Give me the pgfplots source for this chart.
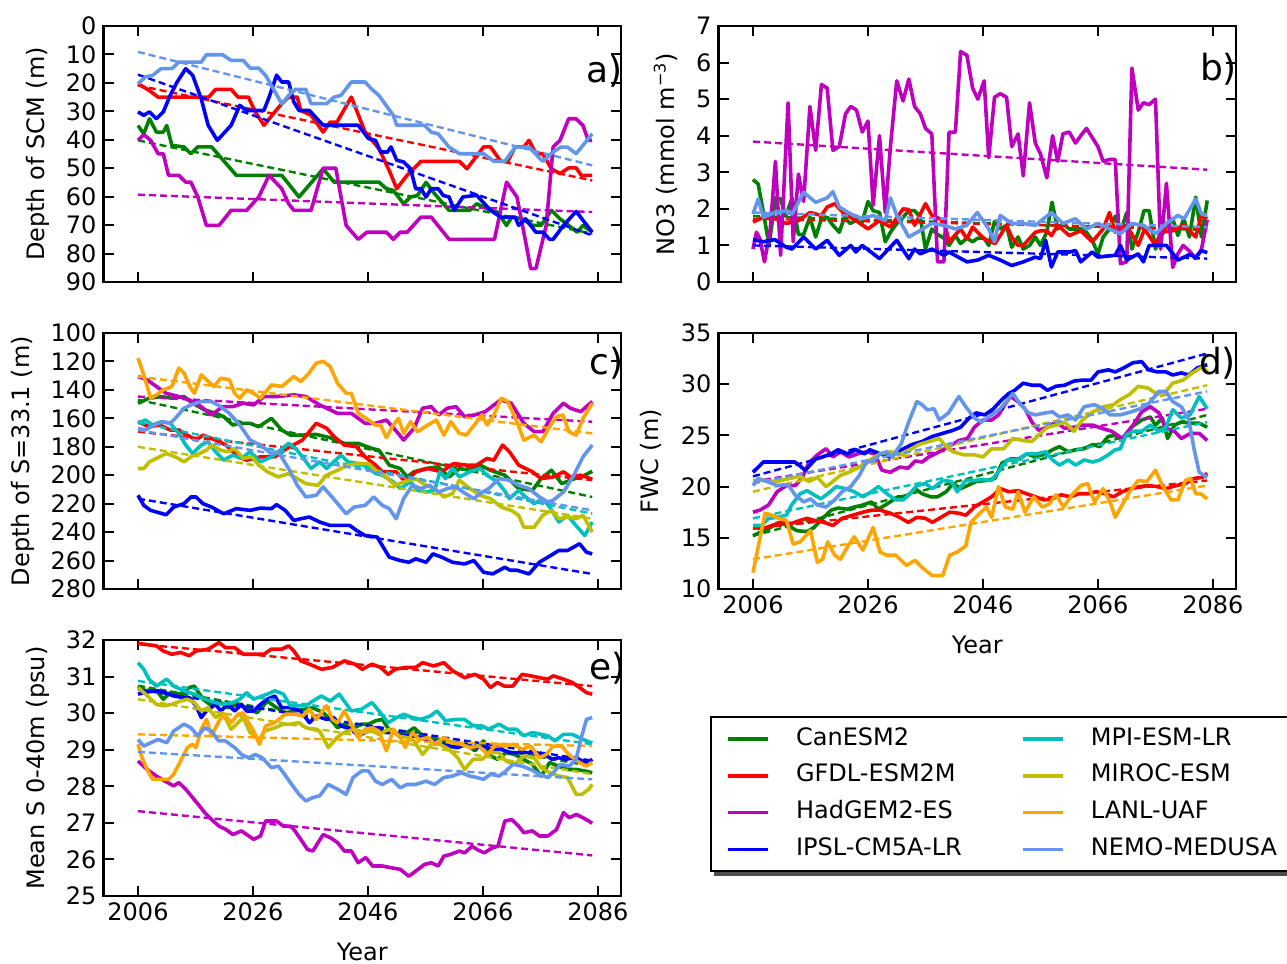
\documentclass[border=0pt]{standalone}
\usepackage{pgfplots}
\pgfplotsset{compat=1.18}
\usepackage{fontspec}
\setmainfont{DejaVu Sans}
\pgfdeclarelayer{background}
\pgfsetlayers{background,main}
\definecolor{cCan}{rgb}{0,0.5,0}
\definecolor{cGFDL}{rgb}{1,0,0}
\definecolor{cHad}{rgb}{0.75,0,0.75}
\definecolor{cIPSL}{rgb}{0,0,1}
\definecolor{cMPI}{rgb}{0,0.75,0.75}
\definecolor{cMIROC}{rgb}{0.75,0.75,0}
\definecolor{cLANL}{rgb}{1,0.647,0}
\definecolor{cNEMO}{rgb}{0.392,0.584,0.929}
\newcommand\fsz{\fontsize{12}{14.4}\selectfont}
\newcommand\fpl{\fontsize{18}{20}\selectfont}
\pgfplotsset{
  ser/.style={line width=1.8pt, line join=round, mark=none},
  tr/.style={line width=1.2pt, dash pattern=on 3.5pt off 2pt, mark=none},
  panel/.style={scale only axis, width=258.75pt, height=128pt,
    xmin=2000, xmax=2090, xtick={2006,2026,...,2086},
    tick align=inside, major tick length=5pt,
    tick style={black, line width=1pt},
    axis line style={line width=1.2pt},
    every tick label/.append style={font=\fsz},
    label style={font=\fsz},
    /pgf/number format/assume math mode=true,
    /pgf/number format/1000 sep={},
    clip mode=individual,
    xlabel style={at={(axis description cs:0.5,-0.219)}, anchor=center},
  },
}
\begin{document}
\begin{tikzpicture}
\path[use as bounding box] (0,0) rectangle (643.5pt,482pt);
% ---------------- a)
\begin{axis}[panel, at={(51.75pt,341pt)}, anchor=south west,
  ymin=0, ymax=90, ytick={0,10,...,90}, y dir=reverse, xticklabels={},
  ylabel={Depth of SCM (m)},
  ylabel style={at={(axis description cs:-0.126,0.5)}, anchor=center}]
\addplot[cCan,ser] coordinates {(2006,35)(2007,37.9)(2008,32.6)(2009.2,37.3)(2010.4,37.3)(2011,35)(2011.9,42)(2014,42.5)(2015.2,44.9)(2016.4,42.5)(2018.8,42.5)(2023.1,52.5)(2031,52.5)(2034,60.1)(2038.2,50.2)(2040.1,54.9)(2047.9,54.9)(2049.2,57.2)(2050.4,57.8)(2052.2,62.5)(2053.4,60.1)(2054.6,59.6)(2056.1,55)(2057.6,59)(2060.1,64.8)(2063.7,64.8)(2064.9,62.5)(2067.3,64.8)(2068.5,65.4)(2070.1,70.1)(2071,67.2)(2072.8,67.8)(2074.6,70.1)(2076.1,70.1)(2077.9,64.8)(2079.4,67.8)(2080.9,70.1)(2082.4,72.5)(2083.4,70.1)(2085,72.5)};
\addplot[cCan,tr] coordinates {(2006,40.2)(2085,73)};
\addplot[cGFDL,ser] coordinates {(2006,20.3)(2007.9,22.6)(2009.5,25)(2018.3,25)(2019.5,22.3)(2022.2,22.3)(2023.4,25)(2025.2,25)(2026.4,30.2)(2027.9,34.9)(2029.8,30.2)(2031,27.3)(2032.2,25)(2033.7,25)(2034.3,29.7)(2036.1,31.4)(2038.2,37.3)(2039.4,33.8)(2040.6,33.8)(2043.1,25)(2045.5,37.3)(2047.9,43.1)(2049.8,51.3)(2051,57.2)(2052.8,52.5)(2055.2,47.6)(2061.9,47.6)(2063.2,50.2)(2065,45.5)(2066.1,42.5)(2067.3,42.5)(2069.1,47.6)(2070.3,47.6)(2071.6,42.5)(2073.1,42.5)(2074,40.2)(2075.2,44.9)(2076.4,44.9)(2077.9,50.2)(2079.4,51.9)(2080.9,49.9)(2082.2,49.9)(2083.1,52.5)(2085,52.5)};
\addplot[cGFDL,tr] coordinates {(2006,20.9)(2085,54.3)};
\addplot[cHad,ser] coordinates {(2006,40.2)(2007,38.2)(2008.2,40.2)(2009.5,44.9)(2010.4,44.9)(2011.3,52.5)(2013.1,52.5)(2014.3,54.9)(2015.2,54.9)(2016.4,60.1)(2017.9,70.1)(2020.1,70.1)(2022.2,64.8)(2024.9,64.8)(2027,60.1)(2028.8,52.5)(2031,57.2)(2032.2,62.5)(2033.1,64.8)(2036.1,64.8)(2038.2,50)(2040.4,50)(2042.2,70.1)(2044.3,75)(2045.8,72.5)(2049.2,72.5)(2050.4,75)(2051.6,72.5)(2052.8,72.5)(2055.2,67.2)(2057,67.2)(2060.1,75)(2068,75)(2070.1,54.9)(2071.9,60.1)(2073.1,72.5)(2074.3,85.3)(2075.2,85.3)(2077,70.1)(2078.2,42.5)(2079.4,40.2)(2080.9,32.6)(2082.2,32.6)(2083.4,35)(2084.3,40.2)(2085,40.2)};
\addplot[cHad,tr] coordinates {(2006,59.3)(2085,65.4)};
\addplot[cIPSL,ser] coordinates {(2006,30.2)(2007,31.4)(2008,30.2)(2009.2,32.6)(2010.4,30.2)(2011.6,24.4)(2012.8,19.7)(2014.3,15)(2015.5,17.3)(2017,25.6)(2018.2,34.9)(2019.8,40.2)(2022.2,34.9)(2023.7,27.9)(2024.9,29.7)(2027.9,29.7)(2028.8,25)(2030.1,17.3)(2031,19.7)(2032.2,19.7)(2033.1,26.7)(2034,29.7)(2035.8,29.7)(2038.2,34.9)(2044.3,34.9)(2046.1,39.6)(2047.3,40.2)(2048.2,44.3)(2049.4,44.3)(2050,42.5)(2051,47.2)(2052.2,47.8)(2053.4,50.2)(2054.3,57.2)(2055.2,57.2)(2056.1,60.1)(2057,57.2)(2058.2,57.2)(2059.1,59.6)(2060.1,60.1)(2061,64.8)(2062.5,60.1)(2064.9,59.5)(2067.3,64.8)(2069.1,67.2)(2071.6,67.2)(2072.2,70.1)(2073.4,67.8)(2075.2,72.5)(2076.4,72.5)(2077.6,75)(2078.2,75)(2080,70.1)(2082.2,65.2)(2085,72.5)};
\addplot[cIPSL,tr] coordinates {(2006,17.1)(2085,73.6)};
\addplot[cNEMO,ser] coordinates {(2006,20.3)(2007.3,17.9)(2008.5,17.4)(2010,15)(2011.9,15)(2013.1,12.7)(2017,12.7)(2017.9,10.1)(2020.7,10.1)(2022.2,12.1)(2024.3,12.1)(2025.5,14.8)(2027,14.8)(2028.2,17.4)(2029.2,20.9)(2031,27.3)(2032.2,24.4)(2033.4,22.3)(2035.2,22.3)(2036.1,27.3)(2038.8,27.3)(2040.1,25)(2041.3,24.4)(2043.1,19.7)(2045.5,19.7)(2046.7,22.3)(2047.9,24.4)(2050.4,31.4)(2051,34.9)(2055.8,34.9)(2057,37.3)(2058.2,37.9)(2060.1,42.6)(2061.9,44.9)(2066.1,44.9)(2067.9,47.6)(2069.8,47.6)(2071.6,42.6)(2074,42.6)(2076.4,47.6)(2078.2,44.3)(2079.5,42.6)(2080.7,42.6)(2082.2,44.9)(2085,37.9)};
\addplot[cNEMO,tr] coordinates {(2006,9.1)(2085,49)};
\node[anchor=base west, font=\fpl] at (axis description cs:0.92,0.78) {a)};
\end{axis}
% ---------------- b)
\begin{axis}[panel, at={(359.25pt,341pt)}, anchor=south west,
  ymin=0, ymax=7, ytick={0,1,...,7}, xticklabels={},
  ylabel={NO3 (mmol m\textsuperscript{−3})},
  ylabel style={at={(axis description cs:-0.102,0.5)}, anchor=center}]
\addplot[cCan,ser] coordinates {(2006,2.8)(2006.9,2.68)(2007.8,1.9)(2008.8,1.0)(2009.9,2.3)(2010.8,2.27)(2011.7,1.8)(2012.8,2.3)(2013.9,1.3)(2014.8,1.3)(2015.9,1.77)(2016.9,1.23)(2017.9,1.73)(2018.9,1.77)(2019.9,1.55)(2021,1.36)(2021.9,1.77)(2022.9,1.6)(2023.9,1.68)(2024.9,1.6)(2026,2.2)(2026.9,1.95)(2028,1.9)(2029,1.1)(2029.9,1.36)(2031,1.6)(2032.1,1.77)(2033.1,1.95)(2034.1,1.95)(2035.1,1.77)(2036,0.9)(2037.1,1.45)(2038.1,1.3)(2039.2,1.2)(2040.1,1.0)(2041.2,1.27)(2042.1,1.05)(2043.2,1.2)(2044.2,1.1)(2045.1,1.2)(2046.2,1.2)(2047,1.0)(2048,1.65)(2049,1.45)(2050.1,1.55)(2051,0.95)(2052.1,1.23)(2053,0.9)(2054.1,1.0)(2055.1,1.23)(2056,1.0)(2057.1,1.36)(2058,2.18)(2059,1.45)(2059.9,1.6)(2061,1.45)(2062.1,1.45)(2063,1.45)(2064,1.36)(2065,1.14)(2066,0.77)(2066.9,1.23)(2068,1.45)(2069,1.8)(2069.9,1.36)(2071,1.9)(2071.9,0.9)(2073,1.36)(2074,1.95)(2074.9,1.95)(2076,0.9)(2076.9,1.23)(2077.9,1.5)(2079,1.73)(2079.9,1.27)(2080.9,1.73)(2081.9,1.23)(2083,2.32)(2084,1.23)(2085,2.23)};
\addplot[cCan,tr] coordinates {(2006,1.8)(2085,1.42)};
\addplot[cGFDL,ser] coordinates {(2006,1.64)(2007.8,1.77)(2009.8,1.73)(2011.8,1.6)(2013.9,1.68)(2015.9,1.9)(2017.9,1.82)(2018.9,2.05)(2020.2,2.14)(2021.9,1.86)(2023.9,1.68)(2026,1.45)(2028,1.68)(2029.9,1.5)(2032.1,2.0)(2033.1,1.98)(2034.1,1.55)(2036,2.14)(2037.1,1.82)(2039.2,1.68)(2040.1,1.1)(2042.1,1.45)(2043.2,1.18)(2044.2,1.5)(2046.2,1.18)(2048.1,1.05)(2050.1,1.55)(2051,1.23)(2052.1,1.0)(2053,1.0)(2055.1,1.36)(2056,1.4)(2057.1,1.4)(2057.9,1.27)(2059,1.55)(2061,1.27)(2063,1.4)(2065,1.1)(2066.9,1.45)(2068,1.9)(2069,1.36)(2071,1.55)(2073,1.0)(2074.1,1.45)(2076,1.0)(2076.9,1.36)(2079,1.4)(2081,1.55)(2083,1.23)(2084,1.82)(2085,1.73)};
\addplot[cGFDL,tr] coordinates {(2006,1.73)(2085,1.45)};
\addplot[cHad,ser] coordinates {(2006,0.9)(2006.6,1.36)(2007.2,1.18)(2008,0.55)(2009,1.45)(2009.9,3.3)(2010.8,0.73)(2012.1,4.9)(2013,1.1)(2013.9,2.95)(2014.8,2.2)(2015.9,4.8)(2016.9,3.6)(2017.9,5.4)(2018.9,5.3)(2019.9,3.6)(2021,3.7)(2022.1,4.6)(2023,4.8)(2024,4.7)(2025,4.1)(2026,4.4)(2026.9,2.1)(2028,4.0)(2029,1.9)(2029.9,3.7)(2031,5.5)(2032.1,4.95)(2033.1,5.55)(2034.1,4.8)(2035.1,4.6)(2036,4.2)(2037.1,4.05)(2038.1,0.55)(2039.2,0.55)(2040.1,4.1)(2041.2,4.1)(2042.1,6.3)(2043.2,6.2)(2044.2,5.3)(2045.1,5.0)(2046.2,5.5)(2047,3.4)(2048,5.05)(2049,5.15)(2050.1,5.05)(2051,3.7)(2052.1,4.05)(2053,2.9)(2054.1,4.9)(2055.1,3.8)(2056,3.5)(2057.1,2.85)(2058.1,4.0)(2059,3.3)(2059.9,4.05)(2061,4.1)(2062.1,3.8)(2063,4.0)(2064,4.2)(2065,3.95)(2066,3.7)(2066.9,3.3)(2068,3.35)(2069,3.35)(2069.9,0.5)(2071,0.55)(2071.9,5.85)(2073,4.7)(2073.9,4.9)(2074.9,4.85)(2076,5.0)(2076.9,0.9)(2077.9,2.7)(2079,0.4)(2079.9,0.77)(2080.8,1.0)(2081.9,0.85)(2083,0.64)(2084,0.9)(2085,1.7)};
\addplot[cHad,tr] coordinates {(2006,3.84)(2085,3.07)};
\addplot[cIPSL,ser] coordinates {(2006,1.16)(2007.8,1.1)(2009.8,1.16)(2011.8,0.95)(2012.8,0.9)(2014.8,1.23)(2016.9,0.9)(2018.9,1.14)(2021,0.73)(2023,1.0)(2023.9,0.82)(2025,1.0)(2028,0.64)(2031,1.14)(2033.1,0.64)(2034.1,0.9)(2035.1,0.77)(2037.1,0.9)(2039.2,0.73)(2040.1,0.82)(2043.2,0.55)(2045.1,0.6)(2047,0.73)(2049,0.6)(2051,0.45)(2053,0.55)(2055.1,0.68)(2056,0.64)(2056.9,1.14)(2057.9,0.41)(2059,0.82)(2061,0.82)(2062.1,0.86)(2063,0.55)(2065,0.82)(2066,0.68)(2069,0.73)(2069.9,1.0)(2071,0.6)(2073,0.77)(2073.9,0.55)(2074.9,1.0)(2077.9,1.0)(2079.9,0.6)(2081.9,0.75)(2083,0.68)(2084,0.86)(2085,0.8)};
\addplot[cIPSL,tr] coordinates {(2006,1.0)(2085,0.64)};
\addplot[cNEMO,ser] coordinates {(2006,1.86)(2006.9,2.27)(2007.8,1.77)(2009.8,1.9)(2011.8,1.95)(2012.8,1.86)(2014.8,2.45)(2016.9,2.18)(2018.9,2.3)(2019.9,2.47)(2021,2.05)(2023,1.86)(2025,1.73)(2026.9,1.82)(2029,1.68)(2029.9,2.3)(2031,1.82)(2033.1,1.23)(2035.1,1.41)(2037.1,1.6)(2039.2,1.55)(2041.2,1.45)(2043.2,1.55)(2045,1.9)(2047,1.45)(2048,1.1)(2049,1.82)(2051,1.6)(2053,1.6)(2055.1,1.55)(2057.9,1.9)(2059.9,1.6)(2062.1,1.73)(2064,1.45)(2066,1.6)(2068,1.45)(2069.9,1.32)(2071.9,1.6)(2073.9,1.55)(2076,1.32)(2077.9,1.6)(2079.9,1.82)(2081,1.73)(2083,2.27)(2084,1.86)(2085,1.82)};
\addplot[cNEMO,tr] coordinates {(2006,1.9)(2085,1.5)};
\node[anchor=base west, font=\fpl] at (axis description cs:0.917,0.786) {b)};
\end{axis}
% ---------------- c)
\begin{axis}[panel, at={(51.75pt,187.5pt)}, anchor=south west,
  ymin=100, ymax=280, ytick={100,120,...,280}, y dir=reverse, xticklabels={},
  ylabel={Depth of S=33.1 (m)},
  ylabel style={at={(axis description cs:-0.156,0.5)}, anchor=center}]
\addplot[cCan,ser] coordinates {(2006,149.4)(2007.9,145.9)(2010.1,144.7)(2011.9,145.9)(2014,144.7)(2015.5,149.4)(2017.6,154.1)(2019.5,156.5)(2020.9,158.8)(2022.5,164.7)(2023.7,163.5)(2025.5,163.5)(2027,165.9)(2029.2,160)(2031,168.2)(2032.5,171.8)(2034.6,171.8)(2037,171.3)(2039.4,173.6)(2041.9,177.6)(2044.3,177.6)(2046.7,181.2)(2047.9,182.4)(2049.7,192.9)(2051.6,195.3)(2052.8,201.2)(2054,197.6)(2056.1,195.3)(2058.2,194.1)(2060.1,201.2)(2061.9,195.3)(2063.7,196.5)(2065.5,192.9)(2067.3,196.5)(2069.8,200)(2072.2,209.4)(2074.6,210.6)(2076.1,202.4)(2077.9,196.5)(2079.7,205.9)(2081.2,203.5)(2083.7,200)(2085,197.2)};
\addplot[cCan,tr] coordinates {(2006,147)(2085,215.3)};
\addplot[cGFDL,ser] coordinates {(2006,162.4)(2007.9,165.9)(2009.8,164.7)(2011.6,168.2)(2013.1,168.2)(2014.6,171.8)(2016.1,175.3)(2017.3,171.8)(2019.5,175.3)(2021.3,178.8)(2023.4,187.1)(2024.9,189.4)(2027.3,187.1)(2029.8,187.1)(2031.9,181.2)(2034.6,175.3)(2035.8,169.4)(2037,163.5)(2038.8,167)(2040.1,172.9)(2041.9,178.8)(2044,180)(2045.5,187.1)(2047.3,192.9)(2048.5,197.6)(2050.9,197.6)(2052.5,204.7)(2054.3,197.6)(2056.4,195.3)(2058.8,197.6)(2060.9,191.8)(2063.1,192.9)(2064.9,192.9)(2066.7,188.2)(2067.9,189.4)(2069.4,178.8)(2070.6,183.5)(2072.2,192.9)(2074.6,197.6)(2076.1,202.4)(2078.2,201.2)(2080,197.6)(2081.2,201.2)(2083,200)(2085,202.8)};
\addplot[cGFDL,tr] coordinates {(2006,169.4)(2085,203.5)};
\addplot[cHad,ser] coordinates {(2006,130.6)(2007.6,132.9)(2009.2,137.6)(2010.9,142.4)(2013.1,144.7)(2014.9,147)(2017,151.8)(2018.8,157.6)(2020.7,151.8)(2022.5,151.8)(2024.3,149.4)(2026.1,150.6)(2027.9,144.7)(2030.1,144.7)(2033.1,143.5)(2035.2,144.7)(2037.6,150.6)(2040.7,156.5)(2043.1,156.5)(2045.5,163.5)(2047.3,163.5)(2049.2,161.2)(2051,169.4)(2052.2,175.3)(2054,167)(2055.5,152.9)(2057,151.8)(2058.3,157.6)(2059.8,152.9)(2061.3,151.8)(2062.8,158.8)(2064.6,157.6)(2066.4,155.3)(2067.9,150.6)(2069.1,147)(2070.9,149.4)(2073.1,163.5)(2074.9,169.4)(2076.4,169.4)(2078.2,156.5)(2080,149.4)(2081.2,152.9)(2083,155.3)(2085,148.2)};
\addplot[cHad,tr] coordinates {(2006,144.7)(2085,162.4)};
\addplot[cIPSL,ser] coordinates {(2006,214.1)(2007,221.2)(2008.2,224.7)(2010.9,227.8)(2012.2,222.4)(2014,220)(2015.2,215.3)(2016.1,215.3)(2017.3,220)(2018.8,222.4)(2020.9,227.1)(2023.1,223.5)(2025.5,224.7)(2027.3,223.1)(2029.2,223.5)(2030.1,220.7)(2031.6,224.7)(2033.1,231.8)(2034.3,230.6)(2035.8,229.4)(2037.6,232.9)(2039.4,235.3)(2041.3,235.3)(2042.8,235.3)(2044,238.8)(2045.5,242.4)(2047.6,243.5)(2049.7,257.6)(2051.6,260)(2053.1,261.2)(2054.3,258.8)(2056.1,261.2)(2057.3,255.3)(2058.8,257.6)(2060.7,261.2)(2062.8,262.4)(2064.4,260)(2066.1,268.2)(2067.7,269.4)(2069.8,264.7)(2070.7,266.8)(2071.9,266.8)(2074,269.4)(2075.8,261.2)(2077.3,257.6)(2079.2,252.9)(2080.7,252.9)(2082.8,248.2)(2084,254.1)(2085,255.3)};
\addplot[cIPSL,tr] coordinates {(2006,216.5)(2085,269.4)};
\addplot[cMPI,ser] coordinates {(2006,163.5)(2007.3,161.2)(2008.5,164.7)(2010.1,162.4)(2011.6,163.5)(2013.1,170.6)(2014.3,178.8)(2015.5,184.7)(2017,178.8)(2018.2,176.5)(2019.5,183.5)(2020.9,189.4)(2022.5,185.9)(2024,188.2)(2025.5,183.5)(2027.3,190.6)(2029.2,187.1)(2030.4,183.5)(2032.2,177.6)(2033.4,181.2)(2034.6,187.1)(2036.1,195.3)(2037.6,190.6)(2038.8,195.3)(2041.3,185.9)(2042.5,190.6)(2044.3,191.8)(2046.1,194.1)(2047.3,198.8)(2048.5,200)(2050.4,204.7)(2051.6,209.4)(2053.4,204.7)(2054.6,210.6)(2056.1,211.8)(2057.6,210.6)(2058.5,197.6)(2059.5,202.4)(2060.7,195.3)(2061.9,201.2)(2063.7,197.6)(2065.5,195.3)(2066.7,200)(2068.5,204.7)(2069.7,210.6)(2070.6,216.5)(2072.2,210.6)(2073.4,215.3)(2074.9,220)(2076.4,216.5)(2077.6,222.4)(2079.2,232.9)(2080.7,228.2)(2081.9,234.1)(2083.7,242.4)(2085,232.9)};
\addplot[cMPI,tr] coordinates {(2006,163)(2085,227)};
\addplot[cMIROC,ser] coordinates {(2006,195.3)(2007,195.3)(2008,190.6)(2009.2,188.2)(2010.9,184.7)(2012.5,187.1)(2014,190.6)(2015.2,187.1)(2016.7,184.7)(2017.9,182.4)(2018.8,178.8)(2020.4,182.4)(2021.6,183.5)(2022.8,181.2)(2024.3,188.2)(2025.8,187.1)(2027,192.9)(2028.5,197.6)(2030.4,201.2)(2032.2,198.8)(2033.7,202.4)(2035.2,205.9)(2037.3,207.1)(2038.8,200)(2040.7,196.5)(2042.5,192.9)(2044.3,191.8)(2046.1,191.8)(2047.3,196.5)(2048.8,200)(2050.7,207.1)(2052.2,204.7)(2054.3,202.4)(2056.1,207.1)(2057.6,209.4)(2059.2,215.3)(2060.7,212.9)(2061.9,203.5)(2063.7,209.4)(2065.5,214.1)(2067.3,216.5)(2069.2,222.4)(2070.9,224.7)(2072.2,228.2)(2073.1,236.5)(2074.9,236.5)(2076.4,228.2)(2077.9,224.7)(2079.2,230.6)(2080.7,229.4)(2082.2,230.6)(2083.4,228.2)(2085,240)};
\addplot[cMIROC,tr] coordinates {(2006,180)(2085,230.6)};
\addplot[cLANL,ser] coordinates {(2006,117.6)(2007,129.4)(2008.2,145.9)(2009.2,143.5)(2010.4,140)(2011.9,137.6)(2013.1,124.7)(2014,128.2)(2015,137.6)(2015.8,142.4)(2017,129.4)(2017.9,132.9)(2019.2,137.6)(2020.4,131.8)(2021.9,132.9)(2022.8,142.4)(2023.7,145.9)(2024.9,140)(2026.1,142.4)(2027.3,145.9)(2029.2,136.5)(2031,137.6)(2033.1,130.6)(2034.3,134.1)(2035.5,129.4)(2037,121.2)(2038.2,120)(2039.4,123.5)(2040.7,135.3)(2042.2,142.4)(2043.1,142.4)(2044.3,156.5)(2046.1,161.2)(2047.3,164.7)(2048.2,164.7)(2049.2,173.6)(2050.4,164.7)(2051.3,160)(2052.2,170.6)(2053.4,162.4)(2054.6,169.4)(2056.4,164.7)(2057.9,161.2)(2059.2,171.8)(2060.4,162.4)(2061.9,170.6)(2063.1,171.8)(2064.5,164.7)(2065.8,157.6)(2066.7,164.7)(2067.9,157.6)(2069.2,145.9)(2070.3,148.2)(2071.9,162.4)(2073.1,175.3)(2074.9,171.8)(2076.1,176.5)(2077.6,165.9)(2078.8,158.8)(2079.9,157.6)(2080.9,169.4)(2082.2,171.8)(2083.4,160)(2085,149.4)};
\addplot[cLANL,tr] coordinates {(2006,130.6)(2085,170.6)};
\addplot[cNEMO,ser] coordinates {(2006,167)(2007.3,168.2)(2008.8,164.7)(2010.4,162.4)(2011.6,163.5)(2012.5,160)(2014,152.9)(2015.2,150.6)(2017,148.2)(2018.8,148.2)(2020.4,151.8)(2021.9,156.5)(2023.7,164.7)(2025.5,175.3)(2027.3,178.8)(2029.2,184.7)(2030.4,183.5)(2032.2,195.3)(2033.7,207.1)(2035.2,215.3)(2037,214.1)(2038.2,208.2)(2040,216.5)(2042.2,227.1)(2043.6,222.4)(2045.5,221.2)(2047,215.3)(2048.5,221.2)(2049.7,223.5)(2050.9,230.6)(2052.2,216.5)(2053.7,207.1)(2055.2,209.4)(2056.7,207.1)(2058.3,211.8)(2059.8,209.4)(2061.3,208.2)(2062.5,211.8)(2064.4,216.5)(2065.5,212.9)(2067,209.4)(2068.8,202.4)(2070.6,203.5)(2072.2,207.1)(2074,209.4)(2075.8,215.3)(2077.3,218.8)(2078.2,217.6)(2080,211.8)(2081.8,200)(2083.4,187.1)(2085,178.8)};
\addplot[cNEMO,tr] coordinates {(2006,168.2)(2085,224.7)};
\node[anchor=base west, font=\fpl] at (axis description cs:0.926,0.836) {c)};
\end{axis}
% ---------------- d)
\begin{axis}[panel, at={(359.25pt,187.5pt)}, anchor=south west,
  ymin=10, ymax=35, ytick={10,15,...,35},
  xlabel={Year}, ylabel={FWC (m)},
  ylabel style={at={(axis description cs:-0.131,0.5)}, anchor=center}]
\addplot[cCan,ser] coordinates {(2006,15.2)(2007.5,15.6)(2009,16)(2010.5,16.5)(2012.1,16.2)(2013.6,15.7)(2015.4,15.6)(2016.6,16)(2018.1,16.9)(2019.6,17.7)(2020.8,17.9)(2022.4,17.8)(2023.6,18)(2025.1,18.2)(2026.6,18.5)(2027.8,17.8)(2029.3,18.3)(2031.2,19)(2032.7,19)(2034.2,19.8)(2035.4,19.3)(2036.9,19)(2038.1,19)(2039.6,19.5)(2040.8,20.3)(2042.1,19.8)(2043.3,20.1)(2044.8,20.5)(2046.6,20.6)(2048.1,20.8)(2049.3,22.3)(2050.8,22.7)(2052.4,22.7)(2053.6,23.2)(2055.1,22.9)(2056.9,23.2)(2058.1,23.6)(2059.3,23.9)(2060.8,23.4)(2062.1,23.6)(2063.6,23.7)(2065.1,24.1)(2066.3,23.9)(2067.8,24.9)(2069,25)(2070.2,24.5)(2071.8,25.8)(2073.6,26.5)(2075.1,26.8)(2076,26)(2077.2,26.7)(2078.1,24.7)(2079.3,26)(2080.5,26.3)(2082.1,26.2)(2083.6,26.2)(2085,25.8)};
\addplot[cCan,tr] coordinates {(2006,15.2)(2085,27)};
\addplot[cGFDL,ser] coordinates {(2006,16)(2007.8,15.9)(2009.3,16.2)(2010.8,16.5)(2012.7,16.4)(2014.2,16.7)(2015.4,16.9)(2016.6,16.7)(2018.4,16.5)(2019.9,16.2)(2021.5,16.9)(2023.3,17.2)(2025.1,17.5)(2026.6,17.7)(2028.1,17.7)(2029.9,17.4)(2031.5,17)(2033,16.5)(2034.5,17)(2036,16.9)(2037.2,16.5)(2038.7,17)(2040.2,17.5)(2041.8,17.4)(2043,17.2)(2044.5,18)(2046,18.5)(2047.5,19)(2049,19.8)(2050.5,19.5)(2052.1,19.6)(2053.6,19.3)(2055.1,19)(2056.6,18.7)(2058.1,18.8)(2059.6,19.2)(2061.2,19)(2062.7,19.3)(2064.2,19.3)(2065.7,19.5)(2067.2,19.3)(2068.7,19)(2070.2,19.5)(2071.8,19.8)(2073.3,20)(2074.8,20.1)(2076.3,20)(2077.8,19.8)(2079.6,20.1)(2081.2,20.3)(2082.7,20.8)(2084.2,20.9)(2085,21.3)};
\addplot[cGFDL,tr] coordinates {(2006,15.9)(2085,20.6)};
\addplot[cHad,ser] coordinates {(2006,17.5)(2007.2,17.7)(2008.7,18.2)(2010.2,19.5)(2011.8,20.1)(2013.3,20.1)(2014.5,20.8)(2015.7,22.3)(2017.2,23.1)(2018.7,23.7)(2019.9,22.9)(2021.2,23.4)(2022.7,22.9)(2024.2,23.2)(2025.7,23.4)(2027.2,23.2)(2028.4,21.6)(2029.9,21.4)(2031.5,21.9)(2033,21.8)(2034.2,22.5)(2035.4,22.4)(2036.6,22.9)(2038.4,23.4)(2040,23.9)(2041.8,24.5)(2043.3,24.7)(2044.5,25.8)(2046,26.5)(2047.5,26.5)(2048.7,27)(2049.9,28.1)(2050.8,28.8)(2052.1,28.3)(2053.3,27.6)(2054.5,26.3)(2055.7,25.5)(2057.2,25.8)(2058.7,26.3)(2060.2,25.7)(2061.8,25.8)(2063.3,26)(2065.1,26)(2066.6,25.7)(2068.4,25.4)(2070.2,24.7)(2072.1,26)(2073.6,27.3)(2075.1,27.8)(2076.6,27.2)(2077.8,25.7)(2079.3,25.4)(2080.5,24.7)(2082.1,25.2)(2083.6,25.2)(2085,24.5)};
\addplot[cHad,tr] coordinates {(2006,20.5)(2085,27.6)};
\addplot[cIPSL,ser] coordinates {(2006,21.4)(2007.8,22.4)(2010.2,22.4)(2013.3,22.4)(2015.1,21.6)(2016.9,22.7)(2018.1,22.9)(2019.6,23.2)(2020.8,23.6)(2022.4,23.2)(2023.9,23.6)(2025.4,23.2)(2026.3,23.6)(2028.1,23.2)(2029.9,22.9)(2031.8,23.6)(2033.6,24.1)(2035.4,24.4)(2037.2,24.9)(2039,25.2)(2040.8,25.5)(2042.1,25.8)(2043.6,26.7)(2044.8,27.2)(2046.3,27)(2047.8,27.6)(2049.3,28.5)(2050.5,29.1)(2051.5,29.4)(2053,30.1)(2054.5,29.9)(2056,29.9)(2057.2,29.4)(2058.7,29.8)(2060.2,29.9)(2061.8,30.3)(2063.3,30.4)(2064.8,30.4)(2066,31.2)(2067.8,31.4)(2069,31.2)(2070.5,31.6)(2072.1,32.1)(2073.6,32.2)(2074.8,31.4)(2076.3,31.2)(2077.8,31.2)(2079,30.9)(2080.5,31.1)(2081.8,30.9)(2083.3,31.6)(2085,31.9)};
\addplot[cIPSL,tr] coordinates {(2006,21)(2085,33)};
\addplot[cMPI,ser] coordinates {(2006,16.2)(2007.5,16.2)(2008.7,16.9)(2010.2,17)(2011.8,17.2)(2012.7,18.2)(2014.2,19.3)(2015.4,19.6)(2016.6,19.2)(2017.8,18.8)(2019,19.3)(2020.5,20)(2022.1,19.8)(2023.6,19.5)(2025.1,19)(2026.6,19.5)(2027.8,20)(2029.3,19.3)(2030.8,18.7)(2032.1,18.7)(2033.3,19.3)(2034.5,20.1)(2036,20.3)(2037.2,19.8)(2039,20.6)(2040.5,20.5)(2041.5,19.5)(2043,20.6)(2044.5,20.6)(2046,20.7)(2047.5,20.6)(2049.3,21.9)(2050.2,22.6)(2051.8,22.6)(2053.6,23.2)(2055.4,23.2)(2056.9,23.4)(2058.1,22.6)(2059.3,22.1)(2060.8,22.6)(2062.1,22.1)(2063.6,22.6)(2065.1,22.4)(2066.3,22.6)(2067.8,23.1)(2069,23.6)(2069.9,23.7)(2070.8,25)(2072.1,25.4)(2073.6,25.4)(2075.1,26)(2076.6,25.4)(2077.8,25.8)(2079,27.5)(2080.5,26.7)(2082,27)(2083.6,28.8)(2085,27.6)};
\addplot[cMPI,tr] coordinates {(2006,16.9)(2085,26.3)};
\addplot[cMIROC,ser] coordinates {(2006,20.6)(2008.1,20.6)(2010.2,20.5)(2012.4,20.8)(2014.2,21.0)(2015.7,20.5)(2017.2,20.9)(2018.7,20)(2019.9,20.5)(2021.2,21.1)(2022.7,21.4)(2024.5,21.9)(2026.3,22.6)(2028.1,23.2)(2029.9,23.4)(2031.8,23.1)(2033.3,23.6)(2034.8,24.1)(2036.6,24.4)(2038.4,24.7)(2039.6,23.9)(2040.8,23.4)(2042.7,23.1)(2044.5,23.1)(2046,22.9)(2047.5,23.7)(2049.6,23.7)(2051.2,24.7)(2053,24.5)(2054.5,24.4)(2056,25.2)(2057.2,25.8)(2058.7,26)(2060.2,26.3)(2061.8,25.4)(2063.3,26.5)(2065.1,27.3)(2066.9,27.8)(2068.7,28)(2069.9,28.5)(2071.5,29)(2073,29.8)(2074.8,29.6)(2076.3,29)(2077.8,29.3)(2079,30.1)(2080.8,30.4)(2082.4,31.1)(2084.2,31.7)(2085,31.2)};
\addplot[cMIROC,tr] coordinates {(2006,19.5)(2085,29.9)};
\addplot[cLANL,ser] coordinates {(2006,11.6)(2006.9,14.1)(2008.1,17.4)(2009.3,17.2)(2010.5,16.9)(2011.8,16.7)(2013,14.4)(2014.2,14.6)(2016,15.7)(2017.2,12.6)(2018.1,12.9)(2019,14.6)(2020.2,13.3)(2021.2,12.9)(2022.4,14.1)(2023.6,15.1)(2025.1,13.8)(2026,14.9)(2026.9,16)(2028.1,13.6)(2029.3,13.3)(2030.8,13.3)(2032.7,12.3)(2034.2,12.8)(2035.4,12.1)(2037.2,11.3)(2039,11.3)(2040.2,13.3)(2041.5,13.6)(2043,14.2)(2043.9,16.5)(2045.1,17.2)(2046.6,18)(2047.5,17)(2048.7,20)(2049.9,18)(2051.2,17.8)(2052.1,19.5)(2053.3,17.5)(2054.8,19)(2056.3,18)(2057.5,18.3)(2058.7,19.2)(2060,18)(2061.5,19.2)(2063,20.1)(2064.2,20.3)(2065.4,18.5)(2066.9,19.8)(2068.1,18.5)(2069,17)(2070.2,18.2)(2071.5,19.5)(2073,20.6)(2074.5,20.5)(2076,21.6)(2077.2,20.1)(2078.7,18.7)(2079.9,18.7)(2081.2,20.6)(2082.1,20.8)(2083,19.3)(2083.9,19.3)(2085,18.8)};
\addplot[cLANL,tr] coordinates {(2006,12.9)(2085,20.1)};
\addplot[cNEMO,ser] coordinates {(2006,20.1)(2006.9,20.8)(2008.4,20.5)(2010.2,20.1)(2012.1,20.2)(2013.3,19.2)(2014.8,18.5)(2016,18.8)(2017.2,18.2)(2018.7,18)(2020.2,18.7)(2021.5,19.5)(2023,20)(2024.5,21.1)(2025.7,22.4)(2026.9,22.5)(2028.1,23.2)(2029.3,23.4)(2030.2,22.9)(2031.8,24.2)(2033,26.2)(2034.5,28.3)(2035.4,28)(2036.3,27.5)(2037.5,27.6)(2038.4,26.5)(2040,27.2)(2041.8,28.8)(2043,27.8)(2044.5,26.7)(2045.7,26.3)(2047.5,27)(2049,27.6)(2051.2,29.1)(2052.4,28.1)(2053.9,27.2)(2055.1,27)(2056.9,27.2)(2058.1,27.3)(2059.3,26.8)(2060.8,27)(2062.1,26.5)(2063.6,27.8)(2065.4,28)(2066.9,27.6)(2068.1,27)(2069.9,27)(2071.8,27.3)(2073.3,27.6)(2074.8,28.1)(2076.6,29.3)(2077.8,29.3)(2079,28.3)(2080.5,27.8)(2081.8,26.5)(2082.7,23.7)(2083.6,21.4)(2085,20.9)};
\addplot[cNEMO,tr] coordinates {(2006,20.3)(2085,29.3)};
\node[anchor=base west, font=\fpl] at (axis description cs:0.915,0.836) {d)};
\end{axis}
% ---------------- e)
\begin{axis}[panel, at={(51.75pt,34pt)}, anchor=south west,
  ymin=25, ymax=32, ytick={25,26,...,32},
  xlabel={Year}, ylabel={Mean S 0-40m (psu)},
  ylabel style={at={(axis description cs:-0.126,0.5)}, anchor=center},
  legend columns=2,
  legend image code/.code={\draw[#1,line width=1.8pt] (0pt,0pt) -- (20pt,0pt);},
  legend style={name=leg, at={(1.172,0.703)}, anchor=north west, font=\fsz,
    draw=black, line width=1pt, fill=white,
    inner xsep=7.75pt, inner ysep=5pt, row sep=6.4pt,
    cells={anchor=west},
    nodes={inner sep=0pt, text height=9pt, text depth=3pt},
    /tikz/column 1/.style={column sep=13pt},
    /tikz/column 2/.style={column sep=29.75pt},
    /tikz/column 3/.style={column sep=13pt}}]
\addplot[cCan,ser,forget plot] coordinates {(2006,30.74)(2007.3,30.61)(2008.5,30.65)(2009.5,30.56)(2010.4,30.38)(2011.6,30.56)(2013.4,30.52)(2014.9,30.7)(2015.8,30.74)(2017.3,30.38)(2018.5,30.24)(2020.1,30.33)(2021.6,30.15)(2023.4,30.24)(2025.5,30.11)(2026.7,30.01)(2028.5,30.33)(2030.1,30.15)(2031.6,30.01)(2033.4,30.06)(2035.2,30.11)(2036.4,30.15)(2038.2,30.01)(2039.5,29.83)(2040.7,29.6)(2041.9,29.7)(2043.1,29.56)(2044.9,29.7)(2046.1,29.7)(2047.3,29.79)(2048.5,29.83)(2049.8,29.51)(2051.3,29.42)(2052.8,29.47)(2054,29.6)(2055.5,29.38)(2057,29.24)(2058.5,29.28)(2060.1,29.1)(2061.3,29.06)(2063.1,29.15)(2064.6,28.97)(2066.1,29.24)(2067.3,28.83)(2068.5,28.74)(2070,28.92)(2071.5,28.87)(2073,28.74)(2074.6,28.6)(2076.1,28.28)(2077.6,28.65)(2079.1,28.55)(2080.7,28.46)(2082.2,28.46)(2083.7,28.42)(2085,28.37)};
\addplot[cCan,tr,forget plot] coordinates {(2006,30.75)(2085,28.55)};
\addplot[cGFDL,ser,forget plot] coordinates {(2006,31.91)(2007.3,31.88)(2009.2,31.84)(2010.4,31.7)(2011.9,31.61)(2013.4,31.66)(2014.9,31.57)(2016.1,31.7)(2018.2,31.75)(2020.1,31.93)(2021.2,31.79)(2022.8,31.79)(2024.3,31.61)(2026.1,31.61)(2027.9,31.61)(2029.2,31.75)(2031,31.75)(2032.2,31.84)(2033.1,31.7)(2034.3,31.43)(2035.8,31.34)(2037.9,31.2)(2039.8,31.25)(2041.9,31.43)(2043.7,31.34)(2045,31.2)(2046.7,31.34)(2048.2,31.25)(2049.5,31.06)(2050.7,31.2)(2052.5,31.25)(2054.3,31.25)(2055.5,31.38)(2057.4,31.29)(2059.2,31.38)(2060.7,31.16)(2062.8,30.97)(2064.6,31.06)(2066.1,30.93)(2067.3,30.7)(2068.5,30.84)(2069.7,30.74)(2071.2,30.74)(2072.8,31.06)(2074.3,31.02)(2075.8,30.97)(2077.3,30.93)(2078.2,31.02)(2080,30.93)(2081.5,30.84)(2082.8,30.7)(2084,30.56)(2085,30.52)};
\addplot[cGFDL,tr,forget plot] coordinates {(2006,31.89)(2085,30.74)};
\addplot[cHad,ser,forget plot] coordinates {(2006,28.69)(2007.6,28.46)(2009.2,28.28)(2010.7,28.14)(2012.2,28.01)(2013.1,28.1)(2014.3,27.92)(2015.5,27.69)(2016.7,27.46)(2017.6,27.28)(2018.8,27.09)(2020.1,26.91)(2021.3,26.82)(2022.5,26.68)(2024,26.78)(2024.9,26.68)(2026.1,26.55)(2027.3,26.64)(2028.2,27.05)(2030.1,27.05)(2031.3,26.91)(2032.5,26.91)(2033.1,26.82)(2034.3,26.55)(2035.5,26.27)(2036.4,26.23)(2038.2,26.68)(2039.5,26.59)(2040.7,26.46)(2041.9,26.23)(2043.1,26.23)(2044.3,25.91)(2045.6,26.05)(2046.8,25.82)(2048.5,25.82)(2050.1,25.77)(2051.6,25.73)(2053.1,25.54)(2054.3,25.68)(2055.8,25.86)(2057,25.91)(2058.2,25.82)(2059.2,26.09)(2060.4,26.14)(2061.9,26.23)(2062.8,26.18)(2064.1,26.36)(2065,26.27)(2066.2,26.18)(2067.7,26.32)(2068.6,26.36)(2069.8,27.05)(2071,27.09)(2072.2,26.91)(2073.1,26.73)(2074.6,26.78)(2075.8,26.64)(2077.3,26.64)(2078.8,26.82)(2080,27.28)(2081,27.14)(2082.2,27.23)(2083.4,27.14)(2085,26.99)};
\addplot[cHad,tr,forget plot] coordinates {(2006,27.32)(2085,26.11)};
\addplot[cIPSL,ser,forget plot] coordinates {(2006,30.52)(2007.6,30.58)(2009.5,30.61)(2010.7,30.56)(2012.2,30.47)(2013.7,30.43)(2014.9,30.43)(2016.1,30.2)(2017,29.88)(2017.9,30.06)(2019.5,30.24)(2020.4,30.06)(2021.6,30.24)(2022.8,30.06)(2024,30.24)(2024.9,30.06)(2026.1,30.06)(2027.3,30.24)(2028.5,30.38)(2029.8,30.47)(2031,30.15)(2032.5,30.15)(2034.3,30.06)(2035.8,29.74)(2037,29.92)(2038.8,29.83)(2040,29.88)(2041.3,29.65)(2043.1,29.56)(2044.3,29.38)(2046.1,29.51)(2047.3,29.6)(2049.1,29.47)(2050.7,29.47)(2052.2,29.38)(2053.7,29.38)(2055.2,29.33)(2056.8,29.24)(2058.2,29.19)(2060.1,29.1)(2061.6,29.06)(2063.1,29.15)(2064.6,29.06)(2066.1,29.1)(2067.6,29.01)(2069.2,29.01)(2070.7,28.92)(2072.2,28.92)(2073.7,28.92)(2075.2,28.92)(2076.7,28.87)(2078,28.74)(2079.2,28.78)(2080.4,28.74)(2081.9,28.78)(2083.4,28.69)(2084.3,28.65)(2085,28.74)};
\addplot[cIPSL,tr,forget plot] coordinates {(2006,30.65)(2085,28.7)};
\addplot[cMPI,ser,forget plot] coordinates {(2006,31.38)(2007,31.2)(2007.9,30.93)(2009.2,30.74)(2011,30.93)(2012.2,30.74)(2014,30.61)(2015.8,30.52)(2017.6,30.38)(2019.5,30.29)(2020.7,30.24)(2022.5,30.29)(2023.7,30.38)(2024.9,30.56)(2026.1,30.38)(2027.6,30.47)(2028.5,30.52)(2029.8,30.61)(2031.3,30.52)(2032.5,30.2)(2034,30.2)(2035.2,30.2)(2036.4,30.33)(2037.9,30.47)(2039.4,30.33)(2041,30.52)(2043.1,30.06)(2044.9,30.11)(2046.7,30.29)(2047.9,30.06)(2049.5,29.74)(2051,29.88)(2052.2,29.97)(2053.7,29.88)(2055.2,29.83)(2056.8,29.92)(2058,30.06)(2059.5,29.79)(2061.3,29.83)(2062.8,29.83)(2064.3,29.65)(2065.8,29.65)(2067,29.56)(2068.8,29.7)(2070.3,29.56)(2071.8,29.56)(2073.1,29.38)(2074.6,29.47)(2076.1,29.42)(2077.3,29.38)(2078.5,29.24)(2080,29.42)(2081.5,29.42)(2083.4,29.28)(2085,29.18)};
\addplot[cMPI,tr,forget plot] coordinates {(2006,30.88)(2085,29.15)};
\addplot[cMIROC,ser,forget plot] coordinates {(2006,30.7)(2007.3,30.52)(2009.2,30.24)(2010.4,30.2)(2011.9,30.24)(2013.4,30.33)(2014.6,30.38)(2015.8,30.29)(2017,30.06)(2018.2,30.15)(2019.5,29.88)(2020.7,30.01)(2022.2,29.56)(2023.4,29.74)(2024.3,29.88)(2025.5,29.47)(2027.1,29.28)(2028,29.51)(2029.8,29.6)(2031.3,29.7)(2032.5,29.7)(2034,29.74)(2035.2,29.6)(2036.4,29.56)(2037.6,29.51)(2039.1,29.06)(2040.6,29.33)(2041.8,29.47)(2043.6,29.56)(2045.4,29.47)(2046.7,29.51)(2047.9,29.42)(2049.7,29.56)(2051.3,29.38)(2052.8,29.33)(2054,29.24)(2055.5,28.87)(2057,29.15)(2058.5,29.15)(2060.1,29.01)(2061.6,28.78)(2062.8,28.46)(2064.3,28.74)(2065.8,28.74)(2067.3,28.92)(2068.8,28.92)(2070,28.69)(2071.5,28.6)(2073.1,28.83)(2074.9,28.78)(2076.1,28.51)(2077.6,28.37)(2079.2,28.28)(2080.7,28.24)(2082.2,27.78)(2083.2,27.78)(2084.4,27.92)(2085,28.05)};
\addplot[cMIROC,tr,forget plot] coordinates {(2006,30.38)(2085,28.33)};
\addplot[cLANL,ser,forget plot] coordinates {(2006,29.15)(2006.7,28.78)(2007.6,28.46)(2008.5,28.19)(2010.1,28.19)(2011.3,28.19)(2012.2,28.33)(2013.4,28.69)(2014.6,29.06)(2015.5,29.15)(2016.1,29.06)(2017,29.56)(2017.9,29.83)(2018.8,29.38)(2020.1,29.79)(2021,29.97)(2022.2,29.74)(2023.4,29.97)(2024.3,30.01)(2025.2,29.74)(2026.1,29.51)(2027.1,29.15)(2028.2,29.65)(2029.8,29.74)(2031.6,29.97)(2033.4,29.97)(2034.6,29.92)(2035.8,30.11)(2037,29.83)(2038.8,30.2)(2039.8,29.83)(2040.7,29.74)(2041.9,30.06)(2043.1,29.7)(2044.3,29.33)(2045.5,29.56)(2046.7,29.6)(2047.9,29.51)(2049.2,28.97)(2050.4,29.56)(2051.6,29.33)(2052.5,29.06)(2053.7,29.47)(2054.9,29.28)(2056.5,29.33)(2057.6,29.15)(2059.2,29.33)(2060.7,29.19)(2062.2,29.15)(2063.7,29.06)(2065.3,29.1)(2066.8,28.87)(2068.3,29.15)(2069.8,29.1)(2071.3,29.15)(2072.8,29.01)(2074.3,29.1)(2075.8,28.78)(2077,28.87)(2078.2,29.1)(2079.7,29.1)(2080.9,28.87)(2082.4,28.69)(2083.9,28.55)(2085,28.65)};
\addplot[cLANL,tr,forget plot] coordinates {(2006,29.42)(2085,29.1)};
\addplot[cNEMO,ser,forget plot] coordinates {(2006,29.28)(2007,29.1)(2008.2,29.19)(2009.5,29.28)(2011,29.19)(2012.2,29.51)(2014,29.7)(2015.2,29.6)(2016.4,29.38)(2017.6,29.6)(2018.8,29.51)(2020,29.24)(2021.2,29.24)(2022.8,29.06)(2024,28.87)(2025.2,28.78)(2026.4,28.87)(2027.6,28.78)(2029.2,28.51)(2030.4,28.55)(2031.3,28.37)(2032.5,28.1)(2034,27.78)(2035.2,27.6)(2036.4,27.69)(2037.6,27.74)(2039.1,28.05)(2040.7,27.92)(2042.2,27.78)(2043.4,28.24)(2044.9,28.42)(2046.1,28.42)(2047.3,28.14)(2048.5,28.05)(2050.1,28.19)(2051.6,27.96)(2052.8,28.05)(2054.3,28.05)(2056.1,28.14)(2057.6,28.05)(2059.2,28.24)(2060.7,28.28)(2062.2,28.37)(2063.7,28.28)(2064.9,28.24)(2066.1,28.19)(2067.3,28.33)(2068.8,28.28)(2070,28.42)(2071.2,28.6)(2072.8,28.55)(2074.3,28.46)(2075.8,28.33)(2077.3,28.24)(2078.2,28.37)(2079.5,28.6)(2081,28.55)(2082.2,28.74)(2083.1,29.33)(2084,29.83)(2085,29.88)};
\addplot[cNEMO,tr,forget plot] coordinates {(2006,28.94)(2085,28.19)};
\node[anchor=base west, font=\fpl] at (axis description cs:0.926,0.844) {e)};
\addlegendimage{cCan}\addlegendentry{CanESM2}
\addlegendimage{cMPI}\addlegendentry{MPI-ESM-LR}
\addlegendimage{cGFDL}\addlegendentry{GFDL-ESM2M}
\addlegendimage{cMIROC}\addlegendentry{MIROC-ESM}
\addlegendimage{cHad}\addlegendentry{HadGEM2-ES}
\addlegendimage{cLANL}\addlegendentry{LANL-UAF}
\addlegendimage{cIPSL}\addlegendentry{IPSL-CM5A-LR}
\addlegendimage{cNEMO}\addlegendentry{NEMO-MEDUSA}
\end{axis}
\begin{pgfonlayer}{background}
\fill[black!70] ([xshift=2pt,yshift=-2pt]leg.south west) rectangle ([xshift=2pt,yshift=-2pt]leg.north east);
\end{pgfonlayer}
\end{tikzpicture}
\end{document}
